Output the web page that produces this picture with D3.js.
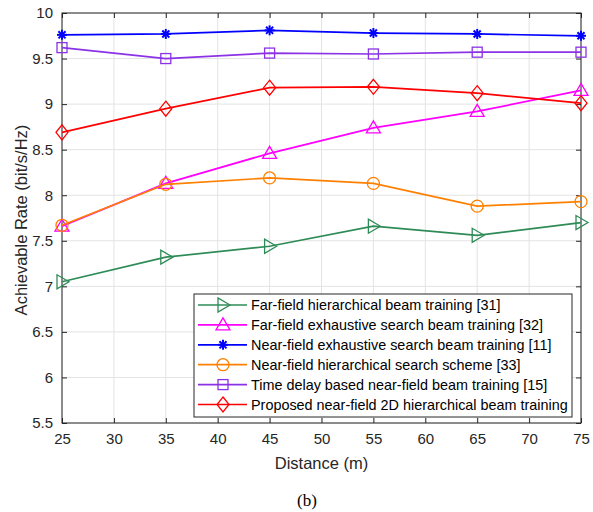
<!DOCTYPE html>
<html>
<head>
<meta charset="utf-8">
<script src="https://cdn.jsdelivr.net/npm/d3@7"></script>
<style>
  body { margin: 0; background: #fff; }
  svg { display: block; }
  text { font-family: "Liberation Sans", Arial, sans-serif; }
</style>
</head>
<body>
<svg id="chart" width="593" height="512"></svg>
<script>
// distances on the x axis
const distances = [25, 35, 45, 55, 65, 75]
const xTicks = [25, 30, 35, 40, 45, 50, 55, 60, 65, 70, 75]
const yTicks = [5.5, 6, 6.5, 7, 7.5, 8, 8.5, 9, 9.5, 10]

// achievable rate per scheme
const farHier = [7.05, 7.32, 7.44, 7.66, 7.56, 7.70]
const farExh = [7.66, 8.13, 8.46, 8.74, 8.92, 9.15]
const nearExh = [9.76, 9.77, 9.81, 9.78, 9.77, 9.75]
const nearHier = [7.67, 8.12, 8.19, 8.13, 7.88, 7.93]
const timeDelay = [9.62, 9.50, 9.56, 9.55, 9.57, 9.57]
const proposed = [8.69, 8.95, 9.18, 9.19, 9.12, 9.01]

const seriesNames = [
  "Far-field hierarchical beam training [31]",
  "Far-field exhaustive search beam training [32]",
  "Near-field exhaustive search beam training [11]",
  "Near-field hierarchical search scheme [33]",
  "Time delay based near-field beam training [15]",
  "Proposed near-field 2D hierarchical beam training"
]
const seriesValues = [farHier, farExh, nearExh, nearHier, timeDelay, proposed]
const seriesColors = ["#2e8b57", "#ff00ff", "#0000ff", "#ff8000", "#8b32e6", "#ff0000"]
const seriesMarkers = ["triangleRight", "triangleUp", "asterisk", "circle", "square", "diamond"]

const svg = d3.select("#chart")
const margin = {left: 62, right: 12, top: 13, bottom: 89}
const W = 593, H = 512
const x = d3.scaleLinear().domain([25, 75]).range([margin.left, W - margin.right])
const y = d3.scaleLinear().domain([5.5, 10]).range([H - margin.bottom, margin.top])

const x0 = x.range()[0], x1 = x.range()[1]
const y0 = y.range()[0], y1 = y.range()[1]

// grid
const grid = svg.append("g").attr("stroke", "#e3e3e3").attr("stroke-width", 1)
xTicks.forEach(t => grid.append("line").attr("x1", x(t)).attr("x2", x(t)).attr("y1", y0).attr("y2", y1))
yTicks.forEach(t => grid.append("line").attr("x1", x0).attr("x2", x1).attr("y1", y(t)).attr("y2", y(t)))

// axes, matlab style inner ticks
const axB = svg.append("g").attr("transform", `translate(0,${y0})`)
  .call(d3.axisBottom(x).tickValues(xTicks).tickSize(-5).tickPadding(10))
const axT = svg.append("g").attr("transform", `translate(0,${y1})`)
  .call(d3.axisTop(x).tickValues(xTicks).tickSize(-5).tickFormat(""))
const axL = svg.append("g").attr("transform", `translate(${x0},0)`)
  .call(d3.axisLeft(y).tickValues(yTicks).tickSize(-5).tickPadding(9).tickFormat(d3.format("~g")))
const axR = svg.append("g").attr("transform", `translate(${x1},0)`)
  .call(d3.axisRight(y).tickValues(yTicks).tickSize(-5).tickFormat(""))
;[axB, axT, axL, axR].forEach(a => {
  a.select(".domain").remove()
  a.selectAll(".tick line").attr("stroke", "#262626")
  a.selectAll("text").attr("fill", "#262626").style("font-size", "15px")
    .style("font-family", "'Liberation Sans', Arial, sans-serif")
})
svg.append("rect").attr("x", x0).attr("y", y1).attr("width", x1 - x0).attr("height", y0 - y1)
  .attr("fill", "none").attr("stroke", "#262626").attr("stroke-width", 1)

// marker drawing
function drawMarker(g, type, cx, cy, color) {
  const s = 6
  const m = g.append("g").attr("transform", `translate(${cx},${cy})`)
    .attr("fill", "none").attr("stroke", color).attr("stroke-width", 1.3)
  if (type == "circle") m.append("circle").attr("r", s)
  else if (type == "square") m.append("rect").attr("x", -5).attr("y", -5).attr("width", 10).attr("height", 10)
  else if (type == "diamond") m.append("path").attr("d", `M0,${-s - 1.5}L${s},0L0,${s + 1.5}L${-s},0Z`)
  else if (type == "triangleUp") m.append("path").attr("d", `M0,${-s - 1}L${s + 1},${s - 1}L${-s - 1},${s - 1}Z`)
  else if (type == "triangleRight") m.append("path").attr("d", `M${s + 1},0L${-s + 1},${-s - 1}L${-s + 1},${s + 1}Z`)
  else if (type == "asterisk") {
    m.attr("stroke-width", 2)
    for (let a = 0; a < 180; a += 45) {
      const r = a * Math.PI / 180
      m.append("line").attr("x1", -5 * Math.cos(r)).attr("y1", -5 * Math.sin(r))
        .attr("x2", 5 * Math.cos(r)).attr("y2", 5 * Math.sin(r))
    }
  }
}

const line = d3.line().x((d, i) => x(distances[i])).y(d => y(d))
seriesValues.forEach((vals, k) => {
  const g = svg.append("g")
  g.append("path").datum(vals).attr("d", line).attr("fill", "none")
    .attr("stroke", seriesColors[k]).attr("stroke-width", 1.7)
  vals.forEach((v, i) => drawMarker(g, seriesMarkers[k], x(distances[i]), y(v), seriesColors[k]))
})

// legend
const lg = svg.append("g")
lg.append("rect").attr("x", 194).attr("y", 294).attr("width", 378).attr("height", 123)
  .attr("fill", "#fff").attr("stroke", "#262626").attr("stroke-width", 1)
seriesNames.forEach((name, k) => {
  const ly = 305 + k * 19.9
  lg.append("line").attr("x1", 198).attr("x2", 247).attr("y1", ly).attr("y2", ly)
    .attr("stroke", seriesColors[k]).attr("stroke-width", 1.7)
  drawMarker(lg, seriesMarkers[k], 223, ly, seriesColors[k])
  lg.append("text").attr("x", 251).attr("y", ly + 5).text(name)
    .style("font-size", "14.4px").attr("fill", "#000")
})

// axis titles
svg.append("text").attr("x", (x0 + x1) / 2).attr("y", 469).attr("text-anchor", "middle")
  .style("font-size", "16.5px").attr("fill", "#262626").text("Distance (m)")
svg.append("text").attr("transform", `translate(27,${(y0 + y1) / 2 + 2}) rotate(-90)`)
  .attr("text-anchor", "middle").style("font-size", "16.5px").attr("fill", "#262626")
  .text("Achievable Rate (bit/s/Hz)")
svg.append("text").attr("x", 307).attr("y", 506).attr("text-anchor", "middle")
  .style("font-family", "'Liberation Serif', 'Times New Roman', serif").style("font-size", "17px")
  .text("(b)")
</script>
</body>
</html>
